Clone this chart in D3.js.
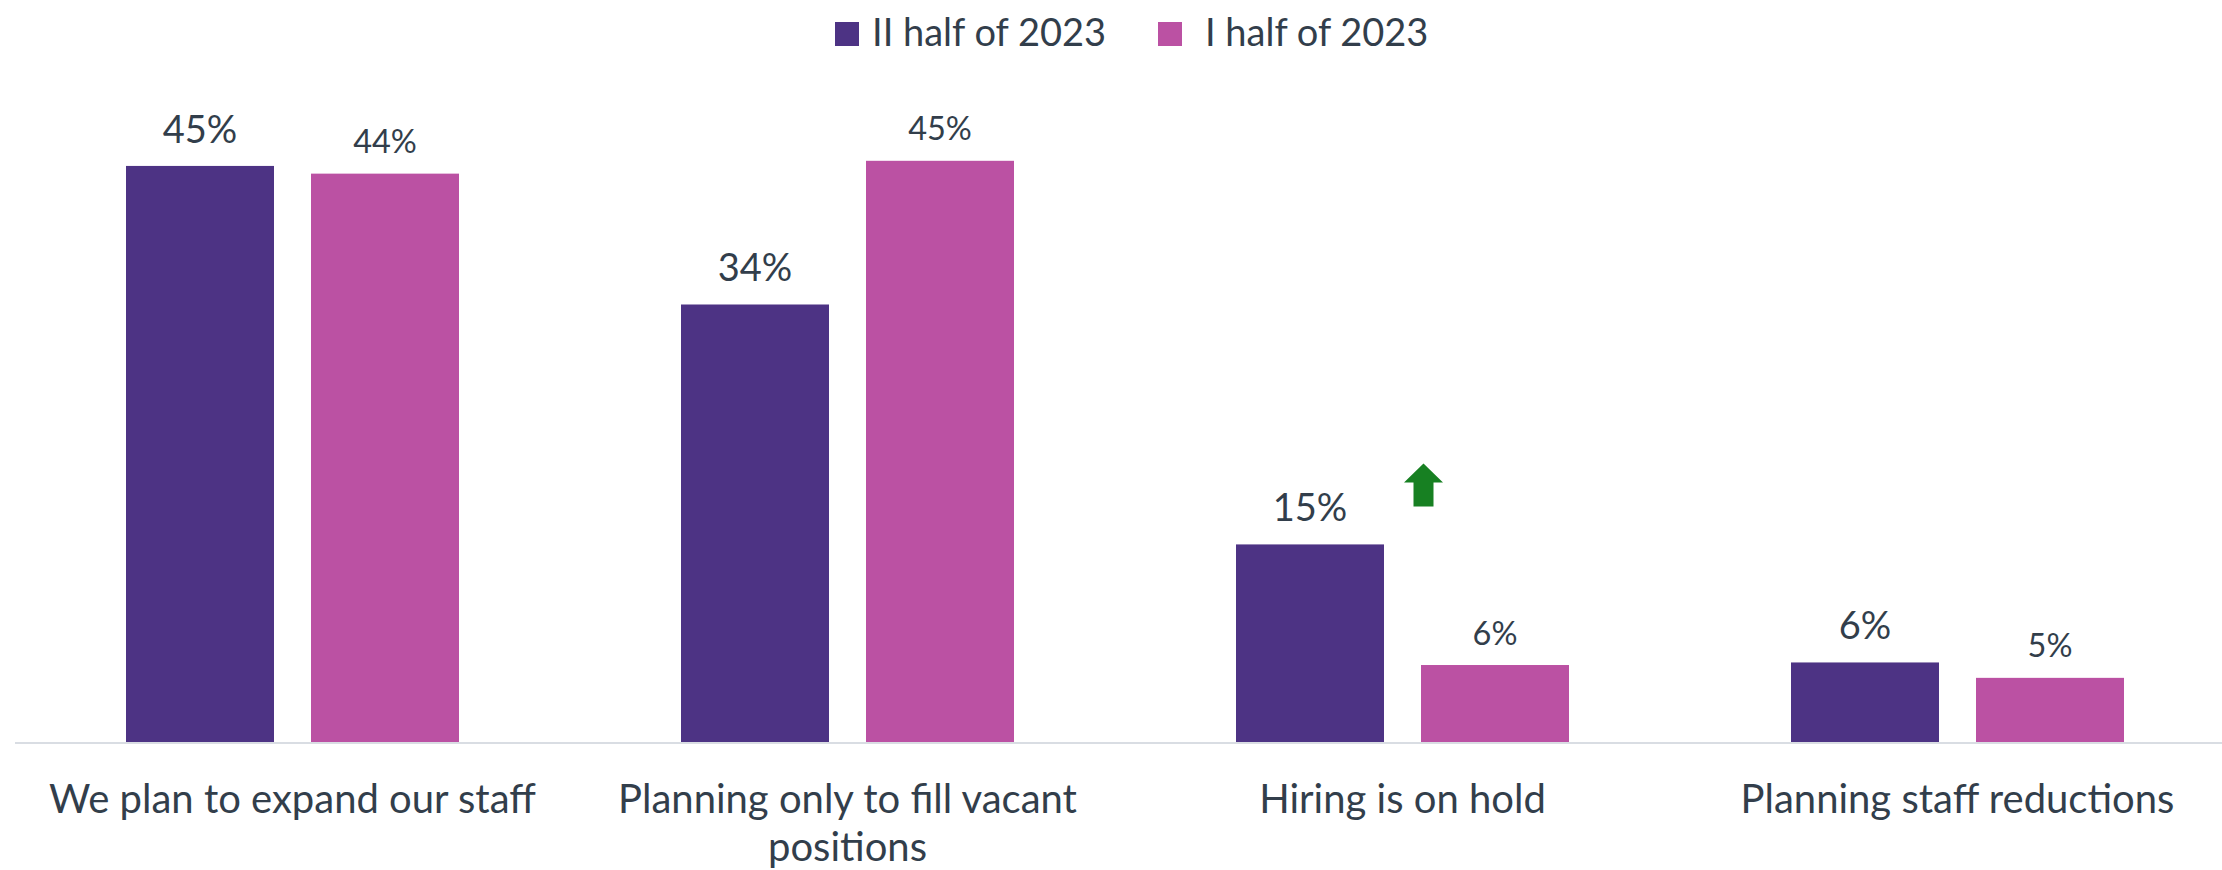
<!DOCTYPE html>
<html>
<head>
<meta charset="utf-8">
<script src="https://cdn.jsdelivr.net/npm/d3@7"></script>
<style>
  html, body { margin: 0; padding: 0; background: #fff; }
  svg text { font-family: Lato, "Open Sans", sans-serif; fill: #323e4b; }
</style>
</head>
<body>
<svg id="chart" width="2222" height="870"></svg>
<script>
// data
var categories = ["We plan to expand our staff", "Planning only to fill vacant positions", "Hiring is on hold", "Planning staff reductions"];
var categoryLines = [["We plan to expand our staff"], ["Planning only to fill vacant", "positions"], ["Hiring is on hold"], ["Planning staff reductions"]];
var seriesNames = ["II half of 2023", "I half of 2023"];
var seriesII = [44.9, 34.1, 15.4, 6.2];
var seriesI = [44.3, 45.3, 6.0, 5.0];
var seriesColors = ["#4d3384", "#bb51a3"];
var arrowCategory = "Hiring is on hold";

var svg = d3.select("#chart"),
    width = +svg.attr("width"),
    height = +svg.attr("height");

var baseY = 742;

var x0 = d3.scaleBand()
    .domain(categories)
    .range([15, 2235])
    .paddingInner(0.4)
    .paddingOuter(0.2);

var x1 = d3.scaleBand()
    .domain(seriesNames)
    .range([0, x0.bandwidth()])
    .paddingInner(0.2);

var y = d3.scaleLinear()
    .domain([0, 50])
    .range([baseY, baseY - 641.5]);

var color = d3.scaleOrdinal().domain(seriesNames).range(seriesColors);

var rows = categories.map(function(c, i) {
  return { cat: c, lines: categoryLines[i], values: [
    { s: seriesNames[0], v: seriesII[i] },
    { s: seriesNames[1], v: seriesI[i] }
  ]};
});

// bars
var group = svg.append("g").attr("class", "bars")
  .selectAll("g")
  .data(rows)
  .enter().append("g")
  .attr("transform", function(d) { return "translate(" + x0(d.cat) + ",0)"; });

group.selectAll("rect")
  .data(function(d) { return d.values; })
  .enter().append("rect")
  .attr("x", function(d) { return x1(d.s); })
  .attr("y", function(d) { return y(d.v); })
  .attr("width", x1.bandwidth())
  .attr("height", function(d) { return baseY - y(d.v); })
  .attr("fill", function(d) { return color(d.s); });

// value labels (first series a bit bigger, as in the original)
group.selectAll("text.val")
  .data(function(d) { return d.values; })
  .enter().append("text")
  .attr("class", "val")
  .attr("x", function(d) { return x1(d.s) + x1.bandwidth() / 2; })
  .attr("y", function(d, i) { return y(d.v) - (i == 0 ? 23 : 20.5); })
  .attr("text-anchor", "middle")
  .style("font-size", function(d, i) { return i == 0 ? "38px" : "32.5px"; })
  .text(function(d) { return Math.round(d.v) + "%"; });

// baseline
svg.append("line")
  .attr("x1", 15).attr("x2", width)
  .attr("y1", baseY + 1).attr("y2", baseY + 1)
  .attr("stroke", "#d9dde3")
  .attr("stroke-width", 2);

// category labels
var xAxis = svg.append("g").attr("class", "xlabels");
rows.forEach(function(d) {
  var t = xAxis.append("text")
    .attr("x", x0(d.cat) + x0.bandwidth() / 2)
    .attr("y", 813)
    .attr("text-anchor", "middle")
    .style("font-size", "40px");
  d.lines.forEach(function(l, k) {
    t.append("tspan")
      .attr("x", x0(d.cat) + x0.bandwidth() / 2)
      .attr("dy", k == 0 ? 0 : 48)
      .text(l);
  });
});

// green arrow over "Hiring is on hold"
var ai = categories.indexOf(arrowCategory);
var ax = x0(arrowCategory) + x0.bandwidth() / 2 + 21,
    ay = y(seriesII[ai]) - 81;
svg.append("path")
  .attr("d", "M0,0 L19.5,19 L10,19 L10,43 L-10,43 L-10,19 L-19.5,19 Z")
  .attr("transform", "translate(" + ax + "," + ay + ")")
  .attr("fill", "#178022");

// legend
var legend = svg.append("g").attr("class", "legend");
var legendX = [835, 1158];
var legendTextGap = [37, 47];
seriesNames.forEach(function(s, i) {
  legend.append("rect")
    .attr("x", legendX[i]).attr("y", 22)
    .attr("width", 24).attr("height", 24)
    .attr("fill", color(s));
  legend.append("text")
    .attr("x", legendX[i] + legendTextGap[i])
    .attr("y", 46)
    .style("font-size", "38px")
    .text(s);
});
</script>
</body>
</html>
